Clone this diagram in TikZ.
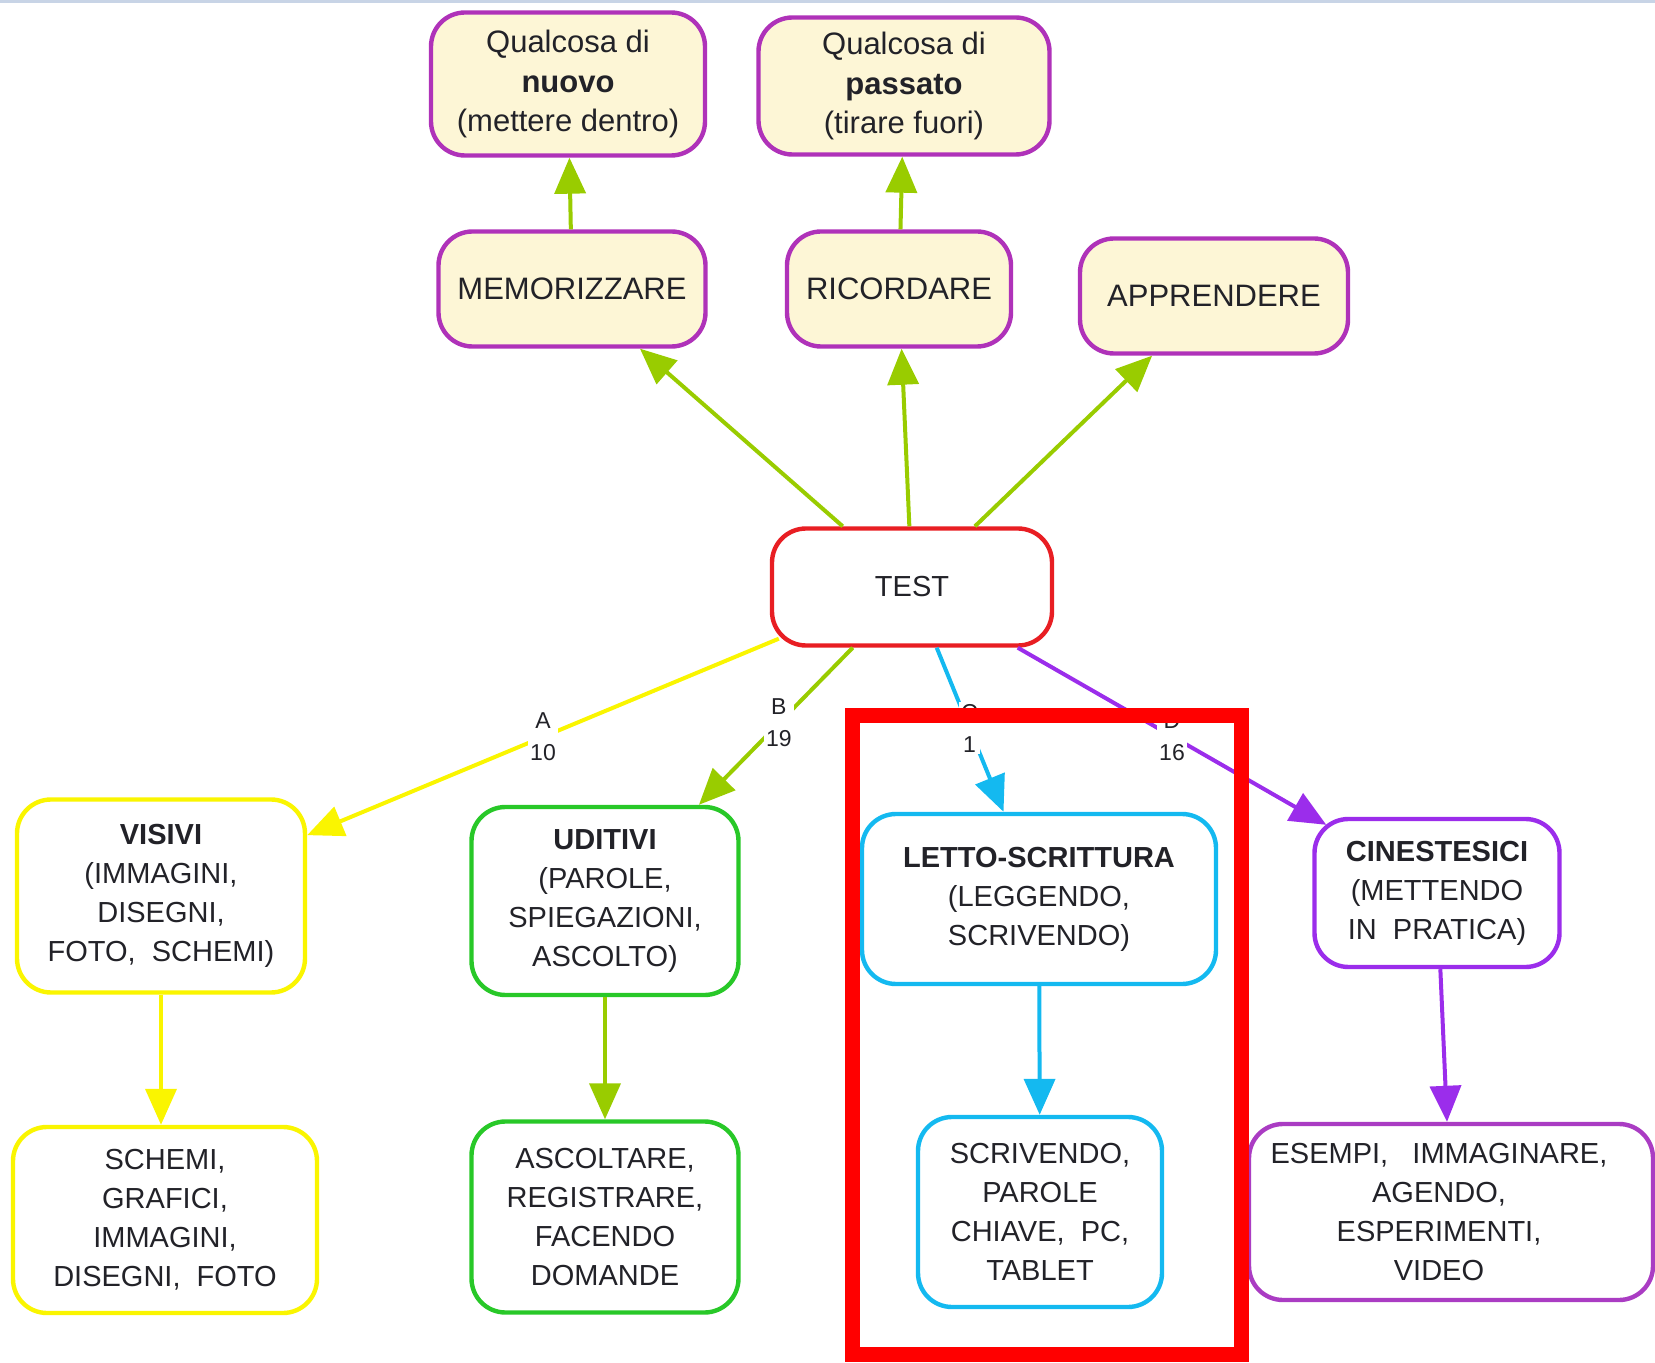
\documentclass[tikz,border=0pt]{standalone}
\usepackage{fontspec}
\setmainfont{Liberation Sans}
\usetikzlibrary{arrows.meta}

\definecolor{txt}{RGB}{34,34,40}
\definecolor{topbar}{RGB}{200,212,230}
\definecolor{cream}{RGB}{253,246,214}
\definecolor{plum}{RGB}{175,50,185}
\definecolor{leaf}{RGB}{153,204,0}
\definecolor{testred}{RGB}{232,30,35}
\definecolor{yel}{RGB}{250,245,0}
\definecolor{grn}{RGB}{40,200,40}
\definecolor{sky}{RGB}{20,185,240}
\definecolor{vio}{RGB}{155,45,235}
\definecolor{mauve}{RGB}{170,60,195}
\definecolor{framered}{RGB}{255,0,0}

\begin{document}
\begin{tikzpicture}[x=0.5pt,y=-0.5pt,
  box/.style={draw, rounded corners=17pt, line width=2.2pt, align=center,
    inner sep=0pt, fill=white, text=txt,
    font=\fontsize{14.5}{19.5}\selectfont},
  topbox/.style={box, draw=plum, fill=cream,
    font=\fontsize{15.5}{19.8}\selectfont},
  link/.style={line width=2pt, -{Triangle[length=18pt,width=15.5pt]}},
  count/.style={fill=white, inner sep=1pt, align=center, text=txt,
    font=\fontsize{11.5}{16}\selectfont}
]
\useasboundingbox (0,0) rectangle (1655,1363);
\fill[topbar] (0,0) rectangle (1655,3);

% upper row
\node[topbox, minimum width=137pt, minimum height=71.5pt] (nuovo) at (568,84)
  {Qualcosa di\\\textbf{nuovo}\\(mettere dentro)};
\node[topbox, minimum width=145.5pt, minimum height=68.5pt] (passato) at (904,86)
  {Qualcosa di\\\textbf{passato}\\(tirare fuori)};
\node[topbox, minimum width=133.5pt, minimum height=57.5pt] (mem) at (572,289) {MEMORIZZARE};
\node[topbox, minimum width=112pt, minimum height=57.5pt] (ric) at (899,289) {RICORDARE};
\node[topbox, minimum width=134pt, minimum height=57.5pt] (app) at (1214,296) {APPRENDERE};

% centre
\node[box, draw=testred, minimum width=140pt, minimum height=58.5pt] (test) at (912,587) {TEST};

% learning styles
\node[box, draw=yel, minimum width=144pt, minimum height=96.5pt] (visivi) at (161,896)
  {\textbf{VISIVI}\\(IMMAGINI,\\DISEGNI,\\FOTO,~~SCHEMI)};
\node[box, draw=grn, minimum width=133.5pt, minimum height=94pt] (uditivi) at (605,901)
  {\textbf{UDITIVI}\\(PAROLE,\\SPIEGAZIONI,\\ASCOLTO)};
\node[box, draw=sky, minimum width=177pt, minimum height=85pt] (letto) at (1039,899)
  {\textbf{LETTO-SCRITTURA}\\(LEGGENDO,\\SCRIVENDO)};
\node[box, draw=vio, minimum width=122.5pt, minimum height=74pt] (cin) at (1437,893)
  {\textbf{CINESTESICI}\\(METTENDO\\IN~~PRATICA)};

% strategies
\node[box, draw=yel, minimum width=152pt, minimum height=93pt] (schemi) at (165,1220)
  {SCHEMI,\\GRAFICI,\\IMMAGINI,\\DISEGNI,~~FOTO};
\node[box, draw=grn, minimum width=133.5pt, minimum height=95.5pt] (ascolt) at (605,1217)
  {ASCOLTARE,\\REGISTRARE,\\FACENDO\\DOMANDE};
\node[box, draw=sky, minimum width=122pt, minimum height=95pt] (scriv) at (1040,1212)
  {SCRIVENDO,\\PAROLE\\CHIAVE,~~PC,\\TABLET};
\node[box, draw=mauve, minimum width=202pt, minimum height=88pt] (esempi) at (1451,1212)
  {\hspace*{-12pt}ESEMPI,~~~IMMAGINARE,\\\hspace*{-12pt}AGENDO,\\
   \hspace*{-12pt}ESPERIMENTI,\\\hspace*{-12pt}VIDEO};

% connectors
\draw[link, leaf] (mem) -- (nuovo);
\draw[link, leaf] (ric) -- (passato);
\draw[link, leaf] (test) -- (mem);
\draw[link, leaf] (test) -- (ric);
\draw[link, leaf] (test) -- (app);

\draw[link, yel] ([shift={(9,-9)}]test.south west) -- node[count, pos=.5] {A\\10} (visivi);
\draw[link, leaf] (test) -- node[count, pos=.48] {B\\19} (uditivi);
\draw[link, sky] (test) -- node[count, pos=.49] {C\\1} (letto);
\draw[link, vio] (test) -- node[count, pos=.5] {D\\16} ([shift={(14,8)}]cin.north west);

\draw[link, yel] (visivi.south) -- (visivi.south |- schemi.north);
\draw[link, leaf] (uditivi) -- (ascolt);
\draw[link, sky] (letto) -- (scriv);
\draw[link, vio] (cin) -- (esempi);

% highlight frame
\draw[framered, line width=7.5pt] (852,716) rectangle (1241,1354);
\end{tikzpicture}
\end{document}
